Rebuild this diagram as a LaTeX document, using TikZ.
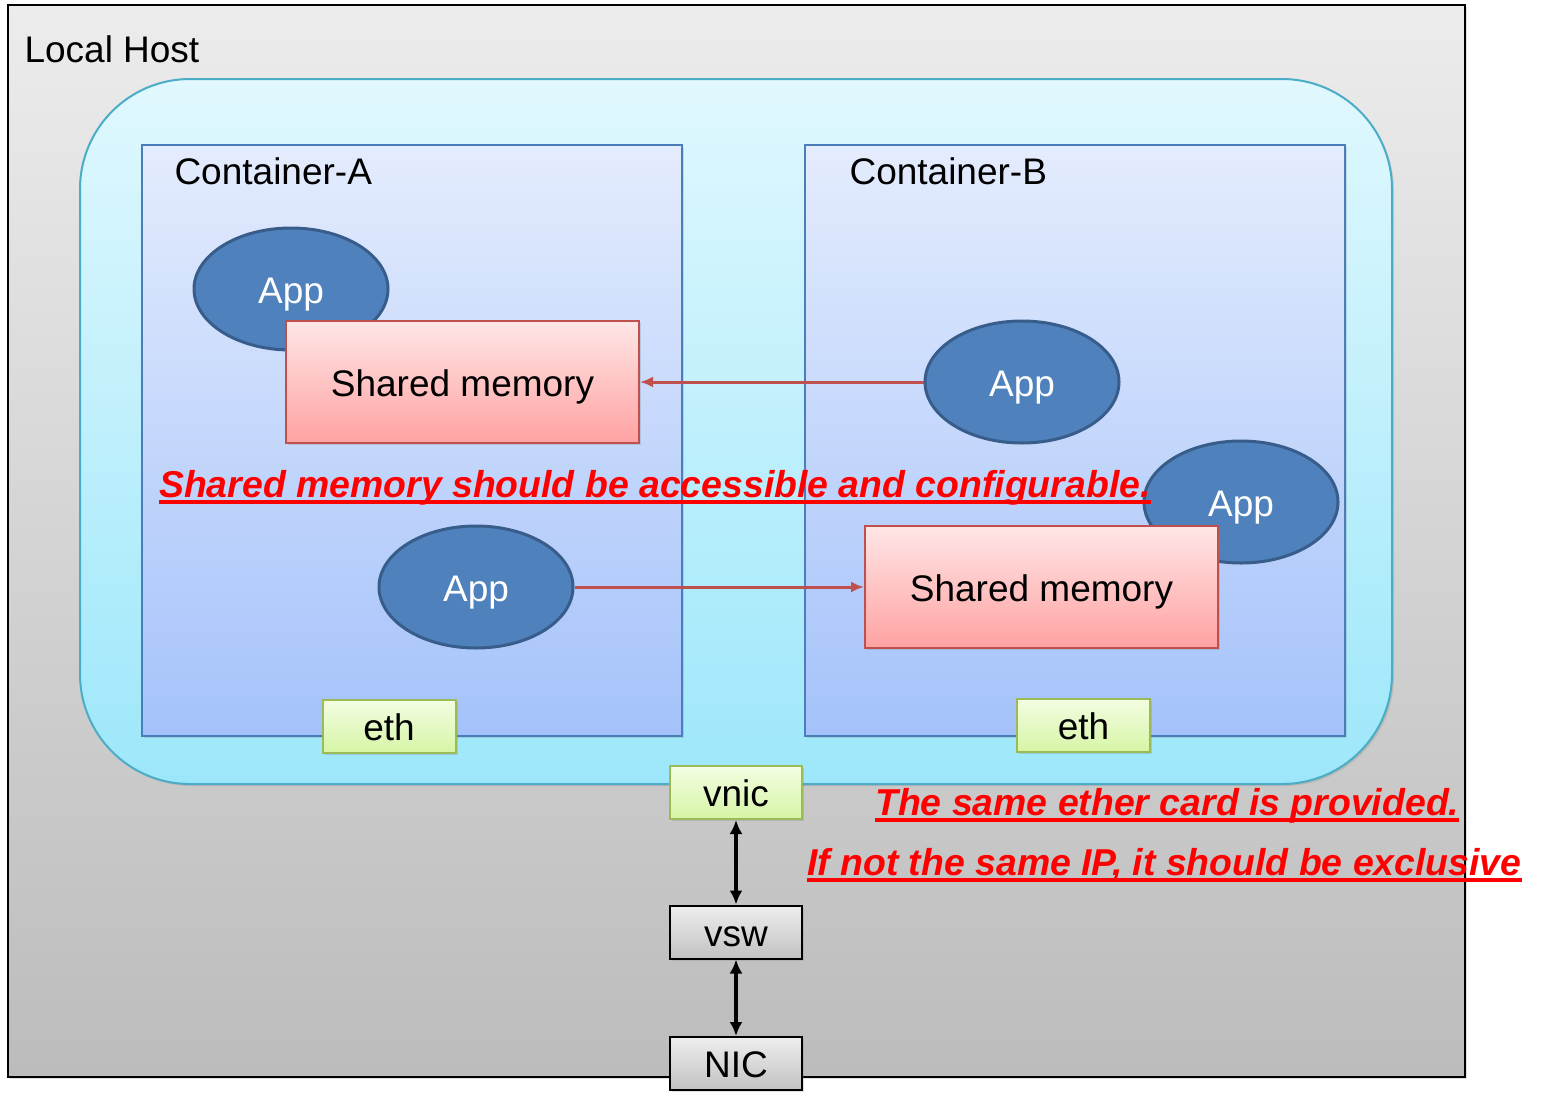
\documentclass[tikz,border=0pt]{standalone}
\usepackage{fontspec}
\setmainfont{Liberation Sans}
\usetikzlibrary{shapes.geometric,arrows.meta,shadows}
\definecolor{hosttop}{HTML}{ECECEC}
\definecolor{hostbot}{HTML}{BCBCBC}
\definecolor{podtop}{HTML}{E0F8FE}
\definecolor{podbot}{HTML}{9DE7FA}
\definecolor{podline}{HTML}{4BACC6}
\definecolor{conttop}{HTML}{E4ECFD}
\definecolor{contbot}{HTML}{A4C2FA}
\definecolor{contline}{HTML}{4A7EBB}
\definecolor{appfill}{HTML}{4F81BD}
\definecolor{appline}{HTML}{385D8A}
\definecolor{shmtop}{HTML}{FFE6E6}
\definecolor{shmbot}{HTML}{FFA2A2}
\definecolor{shmline}{HTML}{C0504D}
\definecolor{ethtop}{HTML}{F3FDE2}
\definecolor{ethbot}{HTML}{D6F5A5}
\definecolor{ethline}{HTML}{9BBB59}
\definecolor{swtop}{HTML}{EEEEEE}
\definecolor{swbot}{HTML}{C2C2C2}
\definecolor{note}{HTML}{FF0000}

\begin{document}
\begin{tikzpicture}[x=1pt,y=-1pt,
    every node/.style={font=\fontsize{37}{44}\selectfont},
    box shadow/.style={drop shadow={opacity=0.25,shadow xshift=2pt,shadow yshift=-2pt}},
    boxtext/.style={text height=28pt,text depth=0pt},
    cont/.style={draw=contline,line width=2pt,top color=conttop,bottom color=contbot,
                 minimum width=540,minimum height=591,inner sep=0pt,box shadow},
    app/.style={ellipse,draw=appline,line width=3pt,fill=appfill,text=white,
                minimum width=194,minimum height=122,inner sep=0pt,boxtext},
    shm/.style={draw=shmline,line width=2pt,top color=shmtop,bottom color=shmbot,
                minimum width=353,minimum height=122,inner sep=0pt,box shadow,boxtext},
    eth/.style={draw=ethline,line width=2pt,top color=ethtop,bottom color=ethbot,
                minimum width=133,minimum height=53,inner sep=0pt,box shadow,boxtext},
    sw/.style={draw=black,line width=2pt,top color=swtop,bottom color=swbot,
               minimum width=132,minimum height=53,inner sep=0pt,box shadow,boxtext},
    memlink/.style={draw=shmline,line width=3pt,-{Latex[length=13pt,width=11pt]}},
    netlink/.style={draw=black,line width=4pt,{Latex[length=14pt,width=13pt]}-{Latex[length=14pt,width=13pt]}},
    remark/.style={text=note,font=\fontsize{37.4}{44}\selectfont\bfseries\itshape,inner sep=0pt}]

\useasboundingbox (0,0) rectangle (1546,1119);

\node[draw=black,line width=2pt,top color=hosttop,bottom color=hostbot,
      minimum width=1457,minimum height=1072,inner sep=0pt,box shadow] (host) at (736.5,541) {};
\node[anchor=west] (hostlabel) at (21,49) {Local Host};

\path[draw=podline,line width=2pt,rounded corners=110pt,top color=podtop,bottom color=podbot,box shadow]
  (80,79) rectangle (1392,784);

\node[cont] (contA) at (412,440.5) {};
\node[cont] (contB) at (1075,440.5) {};
\node[anchor=west] (labelA) at (171,171) {Container-A};
\node[anchor=west] (labelB) at (846,171) {Container-B};

\node[app] (appA1) at (291,289) {App};
\node[shm] (shmA) at (462.5,382) {Shared memory};
\node[app] (appB1) at (1022,382) {App};
\node[app] (appB2) at (1241,502) {App};
\node[app] (appA2) at (476,587) {App};
\node[shm] (shmB) at (1041.5,587) {Shared memory};

\draw[memlink] (appB1) -- (shmA);
\draw[memlink] (appA2) -- (shmB);

\node[eth] (ethA) at (389,726.5) {eth};
\node[eth] (ethB) at (1083.5,725.5) {eth};

\node[eth,minimum width=132] (vnic) at (736,792.5) {vnic};
\node[sw] (vsw) at (736,932) {vsw};
\node[sw] (nic) at (736,1063.5) {NIC};

\draw[netlink] (vnic) -- (vsw);
\draw[netlink] (vsw) -- (nic);

\node[remark,anchor=base west] (noteA) at (159,497) {Shared memory should be accessible and configurable.};
\node[remark,anchor=base west] (noteB) at (875,815) {The same ether card is provided.};
\node[remark,anchor=base west] (noteC) at (807,875) {If not the same IP, it should be exclusive};
\foreach \n in {noteA,noteB,noteC}
  \draw[note,line width=3.5pt] ([yshift=-5pt]\n.base west) -- ([yshift=-5pt]\n.base east);

\end{tikzpicture}
\end{document}
